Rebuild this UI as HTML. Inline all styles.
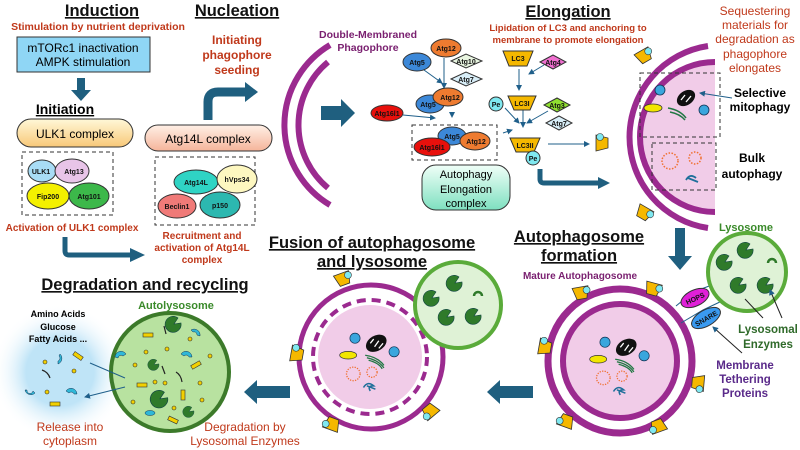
<!DOCTYPE html>
<html><head><meta charset="utf-8"><style>
html,body{margin:0;padding:0;background:#fff}
svg{display:block;font-family:"Liberation Sans",Arial,sans-serif}
.t{font-weight:bold;font-size:16.5px;text-decoration:underline;fill:#111}
.r{fill:#c0391b;font-weight:bold;font-size:11px}
.s{font-size:7px;font-weight:bold;fill:#111}
</style></head><body>
<svg width="800" height="450" viewBox="0 0 800 450" xmlns="http://www.w3.org/2000/svg">
<defs>
<linearGradient id="ulk" x1="0" y1="0" x2="0" y2="1"><stop offset="0" stop-color="#fff8d8"/><stop offset="1" stop-color="#f8c878"/></linearGradient>
<linearGradient id="atg" x1="0" y1="0" x2="0" y2="1"><stop offset="0" stop-color="#fff0e6"/><stop offset="1" stop-color="#f5b49a"/></linearGradient>
<linearGradient id="ael" x1="0" y1="0" x2="0" y2="1"><stop offset="0" stop-color="#f0fff8"/><stop offset="1" stop-color="#7ee0c0"/></linearGradient>
<radialGradient id="glow"><stop offset="0.5" stop-color="#bfe4f7"/><stop offset="1" stop-color="#fff" stop-opacity="0"/></radialGradient>
<marker id="ah" markerWidth="6" markerHeight="6" refX="5" refY="3" orient="auto"><path d="M0,0L6,3L0,6z" fill="#1f5f8a"/></marker>
<g id="cargo">
 <circle cx="-20" cy="-28" r="6" fill="#3aa6dd" stroke="#135" stroke-width="0.8"/>
 <circle cx="26" cy="-12" r="6" fill="#3aa6dd" stroke="#135" stroke-width="0.8"/>
 <ellipse cx="-28" cy="-8" rx="10" ry="4.5" fill="#f2e600" stroke="#333" stroke-width="0.8"/>
 <ellipse cx="5" cy="-22" rx="13" ry="9" fill="#111" transform="rotate(-30 5 -22)"/>
 <path d="M-2,-22 l4,-5 M3,-18 l5,-7 M8,-16 l5,-6" stroke="#fff" stroke-width="1.5"/>
 <path d="M-8,-8 q15,2 22,12 M-6,-5 q14,3 20,12 M-4,-2 q12,3 16,10" stroke="#227744" stroke-width="1.5" fill="none"/>
 <circle cx="-22" cy="14" r="8" fill="none" stroke="#f07030" stroke-width="1.5" stroke-dasharray="1.5 1.5"/>
 <circle cx="0" cy="12" r="6" fill="none" stroke="#f07030" stroke-width="1.5" stroke-dasharray="1.5 1.5"/>
 <path d="M-10,30 q5,-8 12,-2 q-8,0 -4,6 M-6,28 l10,4" stroke="#1f6f9a" stroke-width="1.8" fill="none"/>
</g>
<g id="lc"><path d="M-8,-6 L8,-6 L5,6 L-5,6z" fill="#f5b800" stroke="#333" stroke-width="0.8"/><circle cx="6" cy="-2" r="3.5" fill="#7fe8f0" stroke="#333" stroke-width="0.6"/></g>
<g id="enz"><path d="M0,0 m7,-3 a8,8 0 1 1 -3,-5 l-4,6z" fill="#2f7a2a" stroke="#144" stroke-width="0.6"/></g>
</defs>

<!-- Induction -->
<text x="102" y="16" text-anchor="middle" class="t">Induction</text>
<text x="98" y="30" text-anchor="middle" class="r" style="font-size:10.5px">Stimulation by nutrient deprivation</text>
<rect x="17" y="37" width="133" height="35" fill="#8fd6f5" stroke="#333" stroke-width="1"/>
<text x="83" y="52" text-anchor="middle" font-size="12">mTORc1 inactivation</text>
<text x="83" y="66" text-anchor="middle" font-size="12">AMPK stimulation</text>
<path d="M77,78 h8 v12 h6 l-10,11 l-10,-11 h6z" fill="#1f5f7f"/>
<text x="65" y="114" text-anchor="middle" font-weight="bold" font-size="14" text-decoration="underline">Initiation</text>
<rect x="17" y="119" width="116" height="28" rx="14" fill="url(#ulk)" stroke="#333"/>
<text x="75" y="138" text-anchor="middle" font-size="12">ULK1 complex</text>
<rect x="22" y="152" width="91" height="63" fill="none" stroke="#333" stroke-dasharray="4 3"/>
<ellipse cx="42" cy="171" rx="14" ry="11" fill="#a8dcf5" stroke="#333"/>
<ellipse cx="72" cy="171" rx="17" ry="12" fill="#e8c4e8" stroke="#333"/>
<ellipse cx="48" cy="196" rx="21" ry="13" fill="#f4f000" stroke="#333"/>
<ellipse cx="89" cy="196" rx="20" ry="13" fill="#3cb84a" stroke="#333"/>
<text x="41" y="174" text-anchor="middle" class="s">ULK1</text>
<text x="74" y="174" text-anchor="middle" class="s">Atg13</text>
<text x="48" y="199" text-anchor="middle" class="s">Fip200</text>
<text x="89" y="199" text-anchor="middle" class="s">Atg101</text>
<text x="72" y="231" text-anchor="middle" class="r" style="font-size:10px">Activation of ULK1 complex</text>
<path d="M65,237 v14 q0,4 4,4 h62" stroke="#1f5f7f" stroke-width="5" fill="none"/>
<path d="M130,248 l15,7 l-15,7z" fill="#1f5f7f"/>
<text x="202" y="239" text-anchor="middle" class="r" style="font-size:10px">Recruitment and</text>
<text x="202" y="251" text-anchor="middle" class="r" style="font-size:10px">activation of Atg14L</text>
<text x="202" y="263" text-anchor="middle" class="r" style="font-size:10px">complex</text>

<!-- Nucleation -->
<text x="237" y="16" text-anchor="middle" class="t">Nucleation</text>
<text x="237" y="44" text-anchor="middle" class="r" style="font-size:12px">Initiating</text>
<text x="237" y="59" text-anchor="middle" class="r" style="font-size:12px">phagophore</text>
<text x="237" y="74" text-anchor="middle" class="r" style="font-size:12px">seeding</text>
<path d="M208,120 v-18 q0,-10 10,-10 h28" stroke="#1f5f7f" stroke-width="9" fill="none"/>
<path d="M245,82 l13,10 l-13,10z" fill="#1f5f7f"/>
<rect x="145" y="125" width="127" height="26" rx="13" fill="url(#atg)" stroke="#333"/>
<text x="208" y="143" text-anchor="middle" font-size="12">Atg14L complex</text>
<rect x="155" y="157" width="100" height="68" fill="none" stroke="#333" stroke-dasharray="4 3"/>
<ellipse cx="196" cy="182" rx="22" ry="12" fill="#2fd4c4" stroke="#333"/>
<ellipse cx="237" cy="179" rx="20" ry="14" fill="#fdf7c0" stroke="#333"/>
<ellipse cx="177" cy="206" rx="19" ry="12" fill="#f07a78" stroke="#333"/>
<ellipse cx="220" cy="205" rx="20" ry="13" fill="#2cb8b0" stroke="#333"/>
<text x="196" y="185" text-anchor="middle" class="s">Atg14L</text>
<text x="237" y="182" text-anchor="middle" class="s">hVps34</text>
<text x="177" y="209" text-anchor="middle" class="s">Beclin1</text>
<text x="220" y="208" text-anchor="middle" class="s">p150</text>

<!-- Phagophore -->
<path d="M330,45 A93,93 0 0 0 330,205" stroke="#9b2a8f" stroke-width="6" fill="none"/>
<path d="M330,62 A82,82 0 0 0 330,188" stroke="#9b2a8f" stroke-width="6" fill="none" transform="translate(-2,0)"/>
<text x="368" y="38" text-anchor="middle" fill="#7a2070" font-weight="bold" font-size="10.5">Double-Membraned</text>
<text x="368" y="51" text-anchor="middle" fill="#7a2070" font-weight="bold" font-size="10.5">Phagophore</text>
<path d="M321,106 h20 v-7 l14,14 l-14,14 v-7 h-20z" fill="#1f5f7f"/>

<!-- Elongation complex -->
<g stroke="#1f5f8a" stroke-width="1" fill="none" marker-end="url(#ah)">
<path d="M444,58 V88"/><path d="M424,70 L442,83"/><path d="M403,115 L435,118"/><path d="M452,112 V117"/><path d="M503,133 L512,130"/>
<path d="M519,69 V90"/><path d="M544,65 L529,74"/><path d="M505,108 L519,123"/><path d="M548,111 L527,123"/><path d="M523,108 V127"/><path d="M548,144 H589"/>
</g>
<ellipse cx="446" cy="48" rx="15" ry="9" fill="#ee7b30" stroke="#333"/><text x="446" y="51" text-anchor="middle" class="s">Atg12</text>
<ellipse cx="417" cy="62" rx="14" ry="9" fill="#3c88d8" stroke="#333"/><text x="417" y="65" text-anchor="middle" class="s">Atg5</text>
<path d="M451,61 l15,-7 l16,7 l-16,7z" fill="#e8f5e0" stroke="#333"/><text x="466" y="64" text-anchor="middle" class="s">Atg10</text>
<path d="M451,79 l15,-7 l16,7 l-16,7z" fill="#d8eef8" stroke="#333"/><text x="466" y="82" text-anchor="middle" class="s">Atg7</text>
<ellipse cx="430" cy="104" rx="14" ry="9" fill="#3c88d8" stroke="#333"/><text x="428" y="107" text-anchor="middle" class="s">Atg5</text>
<ellipse cx="448" cy="97" rx="15" ry="9" fill="#ee7b30" stroke="#333"/><text x="450" y="100" text-anchor="middle" class="s">Atg12</text>
<ellipse cx="387" cy="113" rx="16" ry="8" fill="#e8100c" stroke="#333"/><text x="387" y="116" text-anchor="middle" class="s">Atg16l1</text>
<rect x="412" y="125" width="85" height="35" fill="none" stroke="#333" stroke-dasharray="4 3"/>
<ellipse cx="452" cy="136" rx="14" ry="9" fill="#3c88d8" stroke="#333"/><text x="452" y="139" text-anchor="middle" class="s">Atg5</text>
<ellipse cx="475" cy="141" rx="15" ry="9" fill="#ee7b30" stroke="#333"/><text x="476" y="144" text-anchor="middle" class="s">Atg12</text>
<ellipse cx="432" cy="147" rx="18" ry="9" fill="#e8100c" stroke="#333"/><text x="432" y="150" text-anchor="middle" class="s">Atg16l1</text>
<rect x="422" y="165" width="88" height="45" rx="14" fill="url(#ael)" stroke="#333"/>
<text x="466" y="178" text-anchor="middle" font-size="11">Autophagy</text>
<text x="466" y="193" text-anchor="middle" font-size="11">Elongation</text>
<text x="466" y="207" text-anchor="middle" font-size="11">complex</text>

<!-- Elongation -->
<text x="568" y="17" text-anchor="middle" class="t">Elongation</text>
<text x="568" y="31" text-anchor="middle" class="r" style="font-size:9.5px">Lipidation of LC3 and anchoring to</text>
<text x="568" y="43" text-anchor="middle" class="r" style="font-size:9.5px">membrane to promote elongation</text>
<path d="M503,51 h30 l-6,15 h-18z" fill="#f5b800" stroke="#333"/><text x="518" y="61" text-anchor="middle" class="s">LC3</text>
<path d="M540,62 l13,-7 l13,7 l-13,7z" fill="#f070d0" stroke="#333"/><text x="553" y="65" text-anchor="middle" class="s">Atg4</text>
<path d="M508,96 h28 l-6,14 h-16z" fill="#f5b800" stroke="#333"/><text x="522" y="106" text-anchor="middle" class="s">LC3I</text>
<circle cx="496" cy="104" r="7" fill="#7fe8f0" stroke="#333"/><text x="496" y="107" text-anchor="middle" class="s">Pe</text>
<path d="M544,105 l13,-7 l13,7 l-13,7z" fill="#90e030" stroke="#333"/><text x="557" y="108" text-anchor="middle" class="s">Atg3</text>
<path d="M546,123 l13,-7 l13,7 l-13,7z" fill="#d8eef8" stroke="#333"/><text x="559" y="126" text-anchor="middle" class="s">Atg7</text>
<path d="M510,138 h30 l-6,14 h-18z" fill="#f5b800" stroke="#333"/><text x="525" y="148" text-anchor="middle" class="s">LC3II</text>
<circle cx="533" cy="158" r="7" fill="#7fe8f0" stroke="#333"/><text x="533" y="161" text-anchor="middle" class="s">Pe</text>
<path d="M540,169 v10 q0,4 4,4 h56" stroke="#1f5f7f" stroke-width="5" fill="none"/>
<path d="M598,177 l12,6 l-12,6z" fill="#1f5f7f"/>

<!-- Right phagophore -->
<path d="M715,62 A75,75 0 0 0 715,212 Z" fill="#f1cce8"/>
<path d="M715,62 A75,75 0 0 0 715,212" stroke="#9b2a8f" stroke-width="6" fill="none"/>
<path d="M708,46 A92,92 0 0 0 708,228" stroke="#9b2a8f" stroke-width="6" fill="none"/>
<use href="#lc" transform="translate(644,56) rotate(-30)"/>
<use href="#lc" transform="translate(602,143) rotate(-90)"/>
<use href="#lc" transform="translate(644,213) rotate(30)"/>
<rect x="640" y="73" width="80" height="64" fill="none" stroke="#333" stroke-dasharray="4 3"/>
<rect x="652" y="143" width="64" height="47" fill="none" stroke="#333" stroke-dasharray="4 3"/>
<circle cx="660" cy="90" r="5" fill="#3aa6dd" stroke="#135" stroke-width="0.8"/>
<circle cx="704" cy="110" r="5" fill="#3aa6dd" stroke="#135" stroke-width="0.8"/>
<ellipse cx="653" cy="108" rx="9" ry="4" fill="#f2e600" stroke="#333" stroke-width="0.8"/>
<ellipse cx="686" cy="98" rx="10" ry="7" fill="#111" transform="rotate(-35 686 98)"/>
<path d="M681,100 l4,-5 M686,102 l5,-6" stroke="#fff" stroke-width="1.3"/>
<path d="M668,108 q12,2 18,10 M670,112 q10,2 15,8" stroke="#227744" stroke-width="1.5" fill="none"/>
<circle cx="670" cy="161" r="8" fill="none" stroke="#f07030" stroke-width="1.5" stroke-dasharray="1.5 1.5"/>
<circle cx="695" cy="158" r="6" fill="none" stroke="#f07030" stroke-width="1.5" stroke-dasharray="1.5 1.5"/>
<path d="M686,180 q4,-7 10,-2 M688,178 l10,4" stroke="#1f6f9a" stroke-width="1.8" fill="none"/>
<path d="M732,98 L700,93" stroke="#1f5f8a" marker-end="url(#ah)"/>
<text x="760" y="97" text-anchor="middle" font-weight="bold" font-size="12">Selective</text>
<text x="760" y="111" text-anchor="middle" font-weight="bold" font-size="12">mitophagy</text>
<text x="752" y="162" text-anchor="middle" font-weight="bold" font-size="12">Bulk</text>
<text x="752" y="178" text-anchor="middle" font-weight="bold" font-size="12">autophagy</text>
<text x="755" y="15" text-anchor="middle" fill="#c0391b" font-size="12">Sequestering</text>
<text x="755" y="29" text-anchor="middle" fill="#c0391b" font-size="12">materials for</text>
<text x="755" y="43" text-anchor="middle" fill="#c0391b" font-size="12">degradation as</text>
<text x="755" y="58" text-anchor="middle" fill="#c0391b" font-size="12">phagophore</text>
<text x="755" y="72" text-anchor="middle" fill="#c0391b" font-size="12">elongates</text>
<path d="M675,228 h10 v28 h7 l-12,14 l-12,-14 h7z" fill="#1f5f7f"/>

<!-- Autophagosome formation -->
<text x="579" y="242" text-anchor="middle" class="t">Autophagosome</text>
<text x="579" y="261" text-anchor="middle" class="t">formation</text>
<text x="580" y="279" text-anchor="middle" fill="#7a2070" font-weight="bold" font-size="10">Mature Autophagosome</text>
<circle cx="620" cy="361" r="72" fill="#fff" stroke="#9b2a8f" stroke-width="7"/>
<circle cx="620" cy="361" r="57" fill="#f1cce8" stroke="#9b2a8f" stroke-width="6"/>
<use href="#cargo" transform="translate(622,366) scale(0.85)"/>
<use href="#lc" transform="translate(581,293) rotate(-10)"/>
<use href="#lc" transform="translate(653,289) rotate(15)"/>
<use href="#lc" transform="translate(545,347) rotate(-80)"/>
<use href="#lc" transform="translate(698,383) rotate(95)"/>
<use href="#lc" transform="translate(566,421) rotate(200)"/>
<use href="#lc" transform="translate(658,426) rotate(160)"/>
<path d="M676,306 L693,292 L712,285 M681,323 L703,310 L724,300" stroke="#1f5f8a" fill="none"/>
<ellipse cx="695" cy="298" rx="15" ry="8" fill="#e020d8" stroke="#333" transform="rotate(-25 695 298)"/>
<text x="695" y="301" text-anchor="middle" class="s" transform="rotate(-25 695 298)">HOPS</text>
<ellipse cx="706" cy="318" rx="16" ry="8" fill="#3a9af0" stroke="#333" transform="rotate(-30 706 318)"/>
<text x="706" y="321" text-anchor="middle" class="s" transform="rotate(-30 706 318)">SNARE</text>
<text x="746" y="231" text-anchor="middle" fill="#3a8a2a" font-weight="bold" font-size="11">Lysosome</text>
<circle cx="747" cy="272" r="39" fill="#dff2d6" stroke="#5aab3a" stroke-width="4"/>
<use href="#enz" transform="translate(725,264)"/><use href="#enz" transform="translate(746,252)"/>
<use href="#enz" transform="translate(739,287)"/><use href="#enz" transform="translate(766,287)"/>
<path d="M768,263 a4,4 0 0 1 8,0" stroke="#2f7a2a" stroke-width="2.5" fill="none"/>
<path d="M763,318 L745,299 M782,318 L770,290" stroke="#222" marker-end="url(#ah)" fill="none"/>
<text x="768" y="333" text-anchor="middle" fill="#2f6a2a" font-weight="bold" font-size="11.5">Lysosomal</text>
<text x="768" y="348" text-anchor="middle" fill="#2f6a2a" font-weight="bold" font-size="11.5">Enzymes</text>
<path d="M742,353 L713,327" stroke="#222" marker-end="url(#ah)"/>
<text x="745" y="369" text-anchor="middle" fill="#5a2a8a" font-weight="bold" font-size="11.5">Membrane</text>
<text x="745" y="383" text-anchor="middle" fill="#5a2a8a" font-weight="bold" font-size="11.5">Tethering</text>
<text x="745" y="397" text-anchor="middle" fill="#5a2a8a" font-weight="bold" font-size="11.5">Proteins</text>
<path d="M533,386 h-33 v-6 l-13,12 l13,12 v-6 h33z" fill="#1f5f7f"/>

<!-- Fusion -->
<text x="372" y="248" text-anchor="middle" class="t">Fusion of autophagosome</text>
<text x="372" y="267" text-anchor="middle" class="t">and lysosome</text>
<circle cx="371" cy="357" r="72" fill="#fff" stroke="#9b2a8f" stroke-width="5"/>
<circle cx="370" cy="357" r="52" fill="#f1cce8"/>
<circle cx="370" cy="357" r="57" fill="none" stroke="#9b2a8f" stroke-width="4" stroke-dasharray="9 6"/>
<circle cx="458" cy="305" r="43" fill="#dff2d6" stroke="#5aab3a" stroke-width="4"/>
<use href="#enz" transform="translate(432,300)"/><use href="#enz" transform="translate(455,285)"/>
<use href="#enz" transform="translate(447,319)"/><use href="#enz" transform="translate(474,318)"/>
<path d="M474,296 a4,4 0 0 1 8,0" stroke="#2f7a2a" stroke-width="2.5" fill="none"/>
<use href="#cargo" transform="translate(372,362) scale(0.85)"/>
<use href="#lc" transform="translate(343,279) rotate(-20)"/>
<use href="#lc" transform="translate(297,354) rotate(-80)"/>
<use href="#lc" transform="translate(332,424) rotate(200)"/>
<use href="#lc" transform="translate(430,411) rotate(140)"/>
<path d="M290,386 h-33 v-6 l-13,12 l13,12 v-6 h33z" fill="#1f5f7f"/>
<text x="245" y="431" text-anchor="middle" class="r" style="font-size:12px;font-weight:normal">Degradation by</text>
<text x="245" y="445" text-anchor="middle" class="r" style="font-size:12px;font-weight:normal">Lysosomal Enzymes</text>

<!-- Degradation -->
<text x="145" y="290" text-anchor="middle" class="t">Degradation and recycling</text>
<circle cx="60" cy="372" r="68" fill="url(#glow)"/>
<text x="58" y="317" text-anchor="middle" font-weight="bold" font-size="9">Amino Acids</text>
<text x="58" y="330" text-anchor="middle" font-weight="bold" font-size="9">Glucose</text>
<text x="58" y="342" text-anchor="middle" font-weight="bold" font-size="9">Fatty Acids ...</text>
<text x="176" y="309" text-anchor="middle" fill="#3a8a2a" font-weight="bold" font-size="11">Autolysosome</text>
<circle cx="170" cy="372" r="59" fill="#b8e2a0" stroke="#3c7a2a" stroke-width="4"/>
<g fill="#f2d000" stroke="#333" stroke-width="0.6">
<circle cx="146" cy="352" r="2"/><circle cx="167" cy="349" r="2"/><circle cx="190" cy="339" r="2"/><circle cx="135" cy="365" r="2"/>
<circle cx="155" cy="382" r="2"/><circle cx="165" cy="383" r="2"/><circle cx="200" cy="383" r="2"/><circle cx="133" cy="402" r="2"/>
<circle cx="174" cy="408" r="2"/><circle cx="210" cy="356" r="2"/><circle cx="202" cy="400" r="2"/><circle cx="45" cy="362" r="2"/><circle cx="74" cy="371" r="2"/><circle cx="47" cy="392" r="2"/>
<rect x="143" y="333" width="10" height="4"/><rect x="137" y="383" width="10" height="4"/><rect x="191" y="363" width="10" height="4" transform="rotate(-30 196 365)"/>
<rect x="181" y="390" width="4" height="10"/><rect x="168" y="418" width="10" height="4" transform="rotate(25 173 420)"/><rect x="73" y="354" width="10" height="4" transform="rotate(35 78 356)"/><rect x="50" y="402" width="10" height="4"/>
</g>
<g fill="#2fb8d8" stroke="#135" stroke-width="0.5">
<path d="M115,357 a6,6 0 0 1 11,-3 l-3,2 a3,3 0 0 0 -5,2z"/><path d="M181,354 a6,6 0 0 1 11,3 l-3,0 a3,3 0 0 0 -5,-1z"/>
<path d="M191,330 a6,6 0 0 1 9,6 l-3,-1 a3,3 0 0 0 -4,-3z"/><path d="M25,390 a6,6 0 0 0 10,3 l-2,-2 a3,3 0 0 1 -6,-1z"/>
<path d="M66,391 a6,6 0 0 1 11,3 l-3,0 a3,3 0 0 0 -5,-1z"/><path d="M60,354 a6,6 0 0 1 -2,10 l0,-3 a3,3 0 0 0 1,-5z"/>
<ellipse cx="150" cy="413" rx="5" ry="2.5"/>
</g>
<use href="#enz" transform="translate(174,326)"/><use href="#enz" transform="translate(154,366) scale(0.7)"/>
<use href="#enz" transform="translate(160,401) scale(1.1)"/><use href="#enz" transform="translate(189,413) scale(0.7)"/>
<path d="M164,326 l2,8 M162,366 l3,8 M176,372 q5,3 6,10 M42,370 q6,2 8,8" stroke="#222" stroke-width="1.2" fill="none"/>
<path d="M125,378 L90,363 M125,387 L85,397" stroke="#1f5f8a" marker-end="url(#ah)"/>
<text x="70" y="431" text-anchor="middle" class="r" style="font-size:12px;font-weight:normal">Release into</text>
<text x="70" y="445" text-anchor="middle" class="r" style="font-size:12px;font-weight:normal">cytoplasm</text>
</svg>
</body></html>
